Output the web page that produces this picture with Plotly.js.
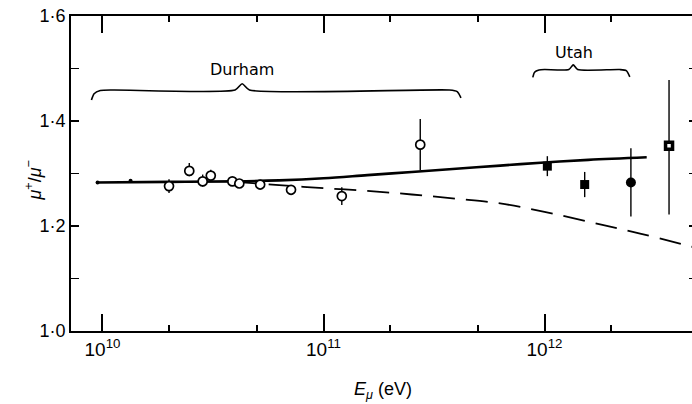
<!DOCTYPE html>
<html>
<head>
<meta charset="utf-8">
<script src="https://cdn.plot.ly/plotly-3.0.1.min.js"></script>
<style>html,body{margin:0;padding:0;background:#fff;overflow:hidden;width:692px;height:404px;}#chart{width:697px;height:404px;}</style>
</head>
<body>
<div id="chart"></div>
<script>
// Durham data (open circles)
const durhamE = [2.0e10, 2.47e10, 2.84e10, 3.09e10, 3.87e10, 4.16e10, 5.17e10, 7.13e10, 1.21e11, 2.74e11];
const durhamR = [1.276, 1.305, 1.285, 1.296, 1.285, 1.281, 1.279, 1.269, 1.257, 1.355];
const durhamErrUp = [0.013, 0.015, 0.013, 0.011, 0.008, 0.008, 0.006, 0.008, 0.017, 0.049];
const durhamErrDn = [0.013, 0.010, 0.010, 0.008, 0.008, 0.008, 0.006, 0.008, 0.017, 0.049];

// small points without error bars
const dotE = [9.5e9, 1.34e10];
const dotR = [1.283, 1.286];

// Utah data (filled markers)
const utahE = [1.03e12, 1.52e12, 2.46e12, 3.66e12];
const utahR = [1.314, 1.279, 1.283, 1.353];
const utahErrUp = [0.019, 0.024, 0.065, 0.125];
const utahErrDn = [0.019, 0.024, 0.065, 0.131];

// solid curve
const solidE = [9.35e9, 2e10, 4e10, 6.3e10, 1e11, 1.58e11, 2.51e11, 3.98e11, 6.3e11, 1e12, 1.58e12, 2.9e12];
const solidR = [1.283, 1.284, 1.285, 1.287, 1.291, 1.297, 1.303, 1.309, 1.315, 1.321, 1.326, 1.331];

// dashed curve
const dashE = [4e10, 6.3e10, 1e11, 1.58e11, 2.51e11, 3.98e11, 6.3e11, 1e12, 1.58e12, 2.51e12, 4.9e12];
const dashR = [1.284, 1.278, 1.272, 1.267, 1.260, 1.252, 1.243, 1.227, 1.208, 1.189, 1.158];

// braces (log10 E, ratio)
const braceDurhamLogE = [9.950, 9.962, 9.990, 10.05, 10.60, 10.632, 10.665, 11.57, 11.605, 11.622];
const braceDurhamR   = [1.440, 1.452, 1.458, 1.459, 1.459, 1.471, 1.459, 1.459, 1.456, 1.444];
const braceUtahLogE = [11.947, 11.955, 11.975, 12.00, 12.11, 12.13, 12.15, 12.34, 12.37, 12.386];
const braceUtahR    = [1.483, 1.493, 1.497, 1.498, 1.498, 1.507, 1.498, 1.498, 1.496, 1.484];

const labelDurham = {text: 'Durham', logE: 10.633, r: 1.499};
const labelUtah = {text: 'Utah', logE: 12.133, r: 1.530};

const xTickVals = [1e10, 1e11, 1e12];
const xTickText = ['10<sup>10</sup>', '10<sup>11</sup>', '10<sup>12</sup>'];
const xMinorVals = [2e10, 5e10, 2e11, 5e11, 2e12, 5e12];
const yTickVals = [1.0, 1.2, 1.4, 1.6];
const yTickText = ['1·0', '1·2', '1·4', '1·6'];
const yMinorVals = [1.1, 1.3, 1.5];

const FONT = 'Liberation Sans, DejaVu Sans, sans-serif';
const LFONT = 'DejaVu Sans, sans-serif';

const traces = [
  {x: solidE, y: solidR, mode: 'lines', line: {color: '#000', width: 2.6, shape: 'spline', smoothing: 1}, hoverinfo: 'skip'},
  {x: dashE, y: dashR, mode: 'lines', line: {color: '#000', width: 1.8, dash: '22px,11px', shape: 'spline', smoothing: 1}, hoverinfo: 'skip'},
  {x: braceDurhamLogE.map(v => Math.pow(10, v)), y: braceDurhamR, mode: 'lines',
   line: {color: '#000', width: 1.6, shape: 'spline', smoothing: 0.6}, hoverinfo: 'skip'},
  {x: braceUtahLogE.map(v => Math.pow(10, v)), y: braceUtahR, mode: 'lines',
   line: {color: '#000', width: 1.6, shape: 'spline', smoothing: 0.6}, hoverinfo: 'skip'},
  {x: dotE, y: dotR, mode: 'markers', marker: {color: '#000', size: 4}},
  {x: durhamE, y: durhamR, mode: 'markers',
   marker: {symbol: 'circle', size: 9, color: '#fff', line: {color: '#000', width: 1.7}},
   error_y: {type: 'data', symmetric: false, array: durhamErrUp, arrayminus: durhamErrDn, width: 0, thickness: 1.4, color: '#000'}},
  {x: utahE.slice(0, 2), y: utahR.slice(0, 2), mode: 'markers',
   marker: {symbol: 'square', size: 9, color: '#000'},
   error_y: {type: 'data', symmetric: false, array: utahErrUp.slice(0, 2), arrayminus: utahErrDn.slice(0, 2), width: 0, thickness: 1.4, color: '#000'}},
  {x: utahE.slice(2, 3), y: utahR.slice(2, 3), mode: 'markers',
   marker: {symbol: 'circle', size: 10, color: '#000'},
   error_y: {type: 'data', symmetric: false, array: utahErrUp.slice(2, 3), arrayminus: utahErrDn.slice(2, 3), width: 0, thickness: 1.4, color: '#000'}},
  {x: utahE.slice(3), y: utahR.slice(3), mode: 'markers',
   marker: {symbol: 'square', size: 7, color: '#fff', line: {color: '#000', width: 3.5}},
   error_y: {type: 'data', symmetric: false, array: utahErrUp.slice(3), arrayminus: utahErrDn.slice(3), width: 0, thickness: 1.4, color: '#000'}}
];

const layout = {
  width: 697, height: 404,
  margin: {l: 71, r: 0, t: 16, b: 73},
  paper_bgcolor: '#fff', plot_bgcolor: '#fff',
  showlegend: false,
  font: {family: FONT, color: '#000', size: 15},
  xaxis: {
    type: 'log', range: [9.8575, 12.690],
    showline: true, linewidth: 2, linecolor: '#000', mirror: 'ticks',
    ticks: 'inside', ticklen: 17, tickwidth: 2, tickcolor: '#000',
    tickvals: xTickVals, ticktext: xTickText,
    tickfont: {family: FONT, size: 19, color: '#000'},
    showgrid: false, zeroline: false,
    minor: {tickvals: xMinorVals, ticks: 'inside', ticklen: 6, tickwidth: 2, tickcolor: '#000', showgrid: false}
  },
  yaxis: {
    range: [1.0, 1.6],
    showline: true, linewidth: 2, linecolor: '#000', mirror: 'ticks',
    ticks: 'inside', ticklen: 8, tickwidth: 1.5, tickcolor: '#000',
    tickvals: yTickVals, ticktext: yTickText,
    tickfont: {family: FONT, size: 18, color: '#000'},
    showgrid: false, zeroline: false,
    minor: {tickvals: yMinorVals, ticks: 'inside', ticklen: 8, tickwidth: 1.5, tickcolor: '#000', showgrid: false}
  },
  annotations: [
    {x: labelDurham.logE, y: labelDurham.r, xref: 'x', yref: 'y', text: labelDurham.text, showarrow: false,
     font: {family: LFONT, size: 16, color: '#000'}},
    {x: labelUtah.logE, y: labelUtah.r, xref: 'x', yref: 'y', text: labelUtah.text, showarrow: false,
     font: {family: LFONT, size: 16, color: '#000'}},
    {x: -0.0815, y: 0.479, xref: 'paper', yref: 'paper', textangle: -90, showarrow: false,
     text: '<i>μ</i><sup>+</sup>/<i>μ</i><sup>−</sup>', font: {family: FONT, size: 18, color: '#000'}},
    {x: 0.498, y: -0.19, xref: 'paper', yref: 'paper', yanchor: 'middle', showarrow: false,
     text: '<i>E</i><sub><i>μ</i></sub> (eV)', font: {family: FONT, size: 18, color: '#000'}}
  ]
};

Plotly.newPlot('chart', traces, layout, {displayModeBar: false, staticPlot: true});
</script>
</body>
</html>
